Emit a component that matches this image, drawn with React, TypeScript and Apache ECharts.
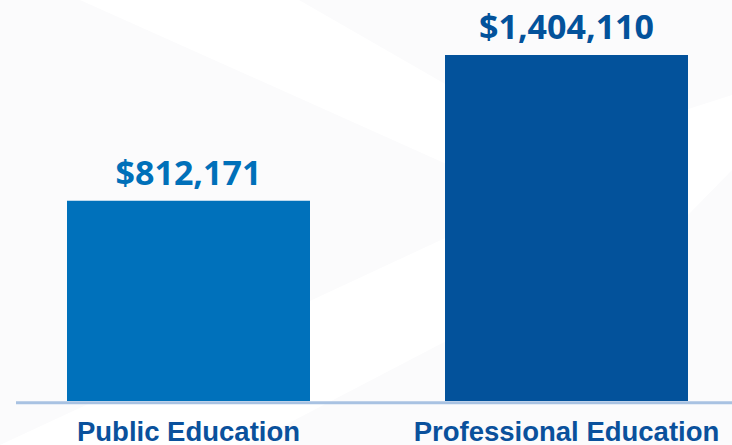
import React, { useEffect, useRef } from "react";
import * as echarts from "echarts";

const categories = ["Public Education", "Professional Education"];
const values = [812171, 1404110];
const barColors = ["#0071bb", "#03529b"];
const labelColors = ["#0070b9", "#03529b"];

const fmt = (v: number) => "$" + v.toLocaleString("en-US");

export default function App() {
  const ref = useRef<HTMLDivElement>(null);
  useEffect(() => {
    if (!ref.current) return;
    const chart = echarts.init(ref.current, undefined, { renderer: "svg" });
    const bg = "#fbfbfc";
    chart.setOption({
      animation: false,
      backgroundColor: "#ffffff",
      graphic: [
        { type: "polygon", z: -10, silent: true, shape: { points: [[0, 0], [80, 0], [527, 200], [0, 445]] }, style: { fill: bg } },
        { type: "polygon", z: -10, silent: true, shape: { points: [[247, 445], [688, 215], [732, 170], [732, 445]] }, style: { fill: bg } },
        { type: "polygon", z: -10, silent: true, shape: { points: [[299, 0], [732, 0], [732, 95], [560, 150]] }, style: { fill: bg } },
        { type: "line", z: 1, silent: true, shape: { x1: 16, y1: 402.8, x2: 732, y2: 402.8 }, style: { stroke: "#a8c2e2", lineWidth: 3 } },
      ],
      grid: { left: 188.5, right: 165.5, top: 55, bottom: 44, containLabel: false },
      xAxis: {
        type: "category",
        data: categories,
        boundaryGap: false,
        axisLine: { show: false },
        axisTick: { show: false },
        axisLabel: {
          interval: 0,
          margin: 16,
          color: "#0a519c",
          fontFamily: "Liberation Sans",
          fontWeight: "bold",
          fontSize: 27.5,
        },
      },
      yAxis: {
        type: "value",
        min: 0,
        max: "dataMax",
        show: false,
        splitLine: { show: false },
      },
      series: [
        {
          type: "bar",
          barWidth: 243,
          z: 3,
          data: values.map((v, i) => ({
            value: v,
            itemStyle: { color: barColors[i] },
            label: {
              show: true,
              position: "top",
              distance: 12,
              formatter: fmt(v),
              color: labelColors[i],
              fontFamily: "Open Sans",
              fontWeight: "bold",
              fontSize: 34,
            },
          })),
        },
      ],
    });
    return () => chart.dispose();
  }, []);
  return (
    <div
      ref={ref}
      style={{ position: "fixed", left: 0, top: 0, width: 732, height: 445 }}
    />
  );
}
